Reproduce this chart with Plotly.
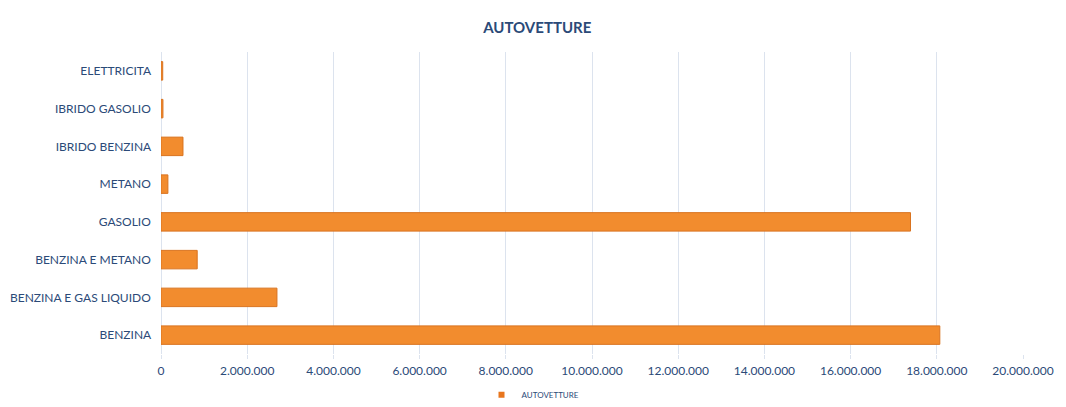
import plotly.graph_objects as go

categories = ["BENZINA", "BENZINA E GAS LIQUIDO", "BENZINA E METANO", "GASOLIO",
              "METANO", "IBRIDO BENZINA", "IBRIDO GASOLIO", "ELETTRICITA"]
values = [18070000, 2690000, 840000, 17390000, 160000, 510000, 45000, 40000]
tick_vals = [0, 2000000, 4000000, 6000000, 8000000, 10000000, 12000000,
             14000000, 16000000, 18000000, 20000000]

text_color = "#2B4A78"
font_family = "Lato, 'Open Sans', sans-serif"
bar_color = "#F28C2E"

fig = go.Figure()
fig.add_trace(go.Bar(
    y=categories, x=values, orientation="h", name="AUTOVETTURE",
    marker=dict(color=bar_color, line=dict(color="#D9731F", width=1)),
    width=0.49, showlegend=False,
))
fig.add_trace(go.Scatter(
    x=[None], y=[None], mode="markers", name="AUTOVETTURE",
    marker=dict(symbol="square", size=6, color="#E8761E"), showlegend=True,
))

fig.update_layout(
    width=1066, height=407,
    margin=dict(l=161, r=43, t=52, b=53),
    paper_bgcolor="white", plot_bgcolor="white",
    separators=",.",
    title=dict(text="<b>AUTOVETTURE</b>", x=0.504, xanchor="center", y=1 - 28 / 407,
               yanchor="middle", xref="container", yref="container",
               font=dict(family=font_family, size=15, color=text_color)),
    font=dict(family=font_family, size=12, color=text_color),
    xaxis=dict(range=[0, 20000000], tickvals=tick_vals, tickformat=",d",
               showgrid=True, gridcolor="#DCE3EE", gridwidth=1,
               zeroline=True, zerolinecolor="#DCE3EE", zerolinewidth=1,
               ticks="outside", ticklen=4, tickcolor="#DCE3EE",
               ticklabelstandoff=2, automargin=False,
               tickfont=dict(size=12, color=text_color), fixedrange=True),
    yaxis=dict(categoryorder="array", categoryarray=categories, showgrid=False,
               ticks="", ticksuffix="   ", tickfont=dict(size=12, color=text_color),
               showline=False, automargin=False, range=[-0.5, 7.5]),
    showlegend=True,
    legend=dict(orientation="h", x=0.5, xanchor="center", xref="container",
                y=0.03, yref="container", yanchor="middle",
                font=dict(size=8, color=text_color), itemwidth=30),
)

fig.write_html("out.html")
